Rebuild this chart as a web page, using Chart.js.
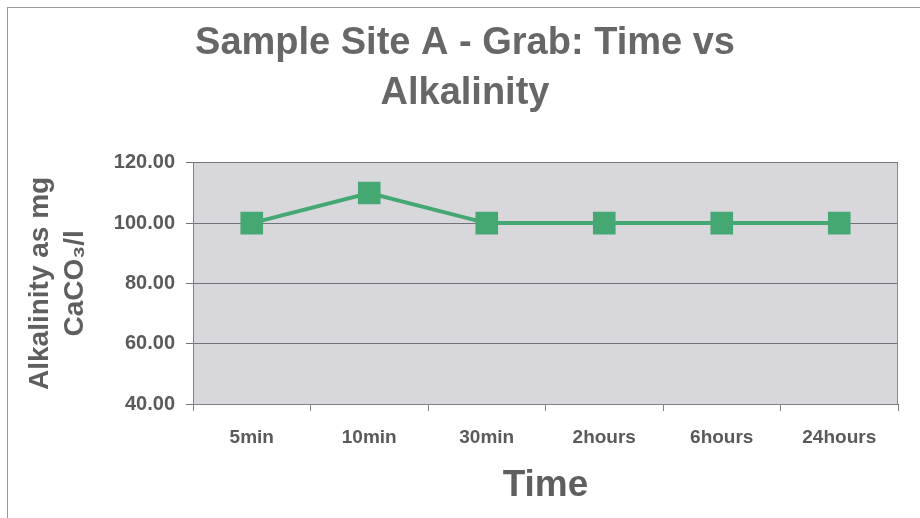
<!DOCTYPE html>
<html><head><meta charset="utf-8">
<script src="https://cdn.jsdelivr.net/npm/chart.js@4"></script>
<style>html,body{margin:0;padding:0;background:#fff;overflow:hidden}</style>
</head><body>
<canvas id="c" width="920" height="518"></canvas>
<script>
const categories = ['5min', '10min', '30min', '2hours', '6hours', '24hours'];
const alkalinity = [100, 110, 100, 100, 100, 100];
const yMin = 40, yMax = 120, yStep = 20;
const titleLines = ['Sample Site A - Grab: Time vs', 'Alkalinity'];
const yTitleLines = ['Alkalinity as mg', 'CaCO\u2083/l'];
const xTitle = 'Time';

const FONT = "'Liberation Sans', Arial, sans-serif";

const framePlugin = {
  id: 'frame',
  beforeDraw(chart) {
    const {ctx, chartArea: a} = chart;
    ctx.save();
    ctx.fillStyle = '#ffffff';
    ctx.fillRect(0, 0, chart.width, chart.height);
    ctx.strokeStyle = '#9a9a9a';
    ctx.lineWidth = 1;
    ctx.strokeRect(7.5, 7.5, chart.width + 10, chart.height + 10);
    ctx.fillStyle = '#d8d8dc';
    ctx.fillRect(a.left, a.top, a.right - a.left, a.bottom - a.top);
    ctx.restore();
  },
  beforeDatasetsDraw(chart) {
    const {ctx, chartArea: a} = chart;
    ctx.save();
    ctx.strokeStyle = '#8a8a8a';
    ctx.lineWidth = 1;
    ctx.beginPath();
    ctx.moveTo(Math.round(a.right) - 0.5, a.top);
    ctx.lineTo(Math.round(a.right) - 0.5, a.bottom);
    ctx.stroke();
    ctx.restore();
  }
};

new Chart(document.getElementById('c'), {
  type: 'line',
  data: {
    labels: categories,
    datasets: [{
      data: alkalinity,
      borderColor: '#45a873',
      backgroundColor: '#45a873',
      borderWidth: 4,
      pointStyle: 'rect',
      pointRadius: 16,
      pointBorderWidth: 0,
      tension: 0
    }]
  },
  options: {
    responsive: false,
    animation: false,
    events: [],
    layout: {padding: {left: 32, right: 22, top: 0, bottom: 0}},
    plugins: {
      legend: {display: false},
      tooltip: {enabled: false},
      title: {
        display: true,
        text: titleLines,
        color: '#676767',
        font: {family: FONT, size: 38, weight: 'bold', lineHeight: 1.3},
        padding: {top: 19, bottom: 45}
      }
    },
    scales: {
      x: {
        offset: true,
        grid: {offset: true, drawOnChartArea: false, drawTicks: true, tickLength: 7, color: '#808080'},
        border: {display: true, color: '#808080', width: 1},
        ticks: {color: '#5a5a5a', font: {family: FONT, size: 19, weight: 'bold'}, padding: 15, maxRotation: 0},
        title: {display: true, text: xTitle, color: '#5f5f5f', font: {family: FONT, size: 37, weight: 'bold', lineHeight: 1.2}, padding: {top: 0, bottom: 10}},
        afterFit(s) { s.height = 114; }
      },
      y: {
        min: yMin, max: yMax,
        grid: {color: '#72727c', lineWidth: 1, tickLength: 7, drawTicks: true},
        border: {display: true, color: '#808080', width: 1},
        ticks: {stepSize: yStep, color: '#5a5a5a', font: {family: FONT, size: 20, weight: 'bold'}, padding: 11,
          callback: v => Number(v).toFixed(2)},
        title: {display: true, text: yTitleLines, color: '#5f5f5f', font: {family: FONT, size: 28, weight: 'bold', lineHeight: 1.25}, padding: {top: -9, bottom: 0}},
        afterFit(s) { s.width = 161; }
      }
    }
  },
  plugins: [framePlugin]
});
</script>
</body></html>
